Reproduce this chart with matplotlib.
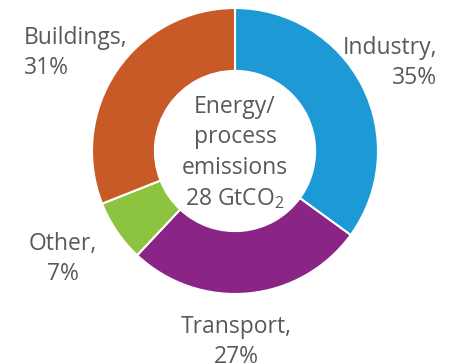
import matplotlib.pyplot as plt

plt.rcParams['font.family'] = ['Open Sans', 'DejaVu Sans']
plt.rcParams['mathtext.fontset'] = 'custom'
plt.rcParams['mathtext.rm'] = 'Open Sans'
plt.rcParams['mathtext.it'] = 'Open Sans'
plt.rcParams['mathtext.default'] = 'rm'

sectors = ['Industry', 'Transport', 'Other', 'Buildings']
shares = [35, 27, 7, 31]
colors = ['#1d9ad6', '#8b2585', '#8cc43f', '#c85a28']
centre_lines = ['Energy/', 'process', 'emissions', '28 GtCO$_2$']

W, H = 453, 364
fig = plt.figure(figsize=(W / 100, H / 100), dpi=100)
ax = fig.add_axes([0, 0, 1, 1])

# donut, clockwise from 12 o'clock
cx, cy, r = 235, H - 151, 143
ax.pie(shares, colors=colors, startangle=90, counterclock=False,
       center=(cx, cy), radius=r, frame=True,
       wedgeprops=dict(width=r * 0.44, edgecolor='white', linewidth=1.5))
ax.set_xlim(0, W)
ax.set_ylim(0, H)
ax.axis('off')

txt = dict(color='#58595b', fontsize=16.5, linespacing=1.35)
labels = [f'{s},\n{v}%' for s, v in zip(sectors, shares)]
ax.text(437, H - 63, labels[0], ha='right', va='center', multialignment='right', **txt)
ax.text(236, H - 342, labels[1], ha='center', va='center', multialignment='center', **txt)
ax.text(63, H - 259, labels[2], ha='center', va='center', multialignment='center', **txt)
ax.text(24, H - 53, labels[3], ha='left', va='center', multialignment='left', **txt)

ax.text(cx, H - 153, '\n'.join(centre_lines), ha='center', va='center',
        multialignment='center', **txt)

fig.savefig('out.png', dpi=100)
